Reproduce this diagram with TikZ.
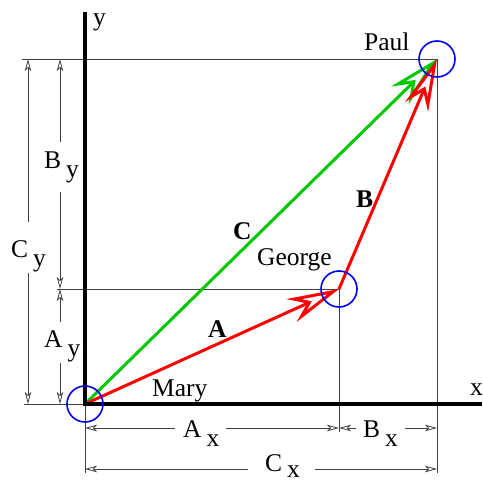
\documentclass[tikz,border=0pt]{standalone}
\usepackage{fontspec}
\setmainfont{Liberation Serif}
\usetikzlibrary{arrows.meta}
\definecolor{vred}{RGB}{255,0,0}
\definecolor{vgreen}{RGB}{0,200,0}
\definecolor{vblue}{RGB}{0,0,240}
\tikzset{
  thinline/.style={line width=0.8pt, black!75},
  dimline/.style={line width=0.8pt, black!75, -{Stealth[open, length=12pt, width=6.5pt, inset=3pt, line width=0.8pt]}},
  vec/.style={line width=3pt, line join=miter, -{Stealth[open, length=52pt, width=25pt, inset=17pt, line width=3pt]}},
  axis/.style={line width=4pt, black},
  lbl/.style={font=\fontsize{25.5}{30}\selectfont, inner sep=0pt, anchor=base west},
  blbl/.style={font=\fontsize{25.5}{30}\selectfont\bfseries, inner sep=0pt, anchor=base west},
  pt/.style={circle, draw=vblue, line width=1.6pt, minimum size=36pt, inner sep=0pt}
}
\newcommand{\dimlab}[3][9pt]{#2\hspace{5pt}\raisebox{-#1}{#3}}
\begin{document}
\begin{tikzpicture}[x=1pt,y=-1pt]
\useasboundingbox (0,0) rectangle (482,484);
% key points
\coordinate (M) at (85,404);
\coordinate (G) at (339,289);
\coordinate (P) at (437,59);
% extension lines
\coordinate (e1) at (22,59);
\coordinate (e2) at (57,289);
\coordinate (e3) at (24,404);
\coordinate (e4) at (85,473);
\coordinate (e5) at (339,432);
\coordinate (e6) at (437,473);
\draw[thinline] (e1) -- (P);
\draw[thinline] (e2) -- (G);
\draw[thinline] (e3) -- (M);
\draw[thinline] (M) -- (e4);
\draw[thinline] (G) -- (e5);
\draw[thinline] (P) -- (e6);
% dimension end points
\coordinate (ax0) at (85,428);  \coordinate (ax1) at (339,428); \coordinate (bx1) at (437,428);
\coordinate (cx0) at (85,469);  \coordinate (cx1) at (437,469);
\coordinate (by0) at (60,59);   \coordinate (by1) at (60,289);  \coordinate (ay1) at (60,404);
\coordinate (cy0) at (28,59);   \coordinate (cy1) at (28,404);
% dimension line inner ends
\coordinate (ax0i) at (175,428); \coordinate (ax1i) at (226,428);
\coordinate (bx0i) at (356,428); \coordinate (bx1i) at (405,428);
\coordinate (cx0i) at (248,469); \coordinate (cx1i) at (315,469);
\coordinate (by0i) at (60,142);  \coordinate (by1i) at (60,192);
\coordinate (ay0i) at (60,322);  \coordinate (ay1i) at (60,363);
\coordinate (cy0i) at (28,222);  \coordinate (cy1i) at (28,273);
\draw[dimline] (ax0i) -- (ax0);
\draw[dimline] (ax1i) -- (ax1);
\draw[dimline] (bx0i) -- (ax1);
\draw[dimline] (bx1i) -- (bx1);
\draw[dimline] (cx0i) -- (cx0);
\draw[dimline] (cx1i) -- (cx1);
\draw[dimline] (by0i) -- (by0);
\draw[dimline] (by1i) -- (by1);
\draw[dimline] (ay0i) -- (by1);
\draw[dimline] (ay1i) -- (ay1);
\draw[dimline] (cy0i) -- (cy0);
\draw[dimline] (cy1i) -- (cy1);
% dimension labels
\node[lbl] (Ax) at (183,437) {\dimlab{A}{x}};
\node[lbl] (Bx) at (363,437) {\dimlab{B}{x}};
\node[lbl] (Cx) at (265,471) {\dimlab[6pt]{C}{x}};
\node[lbl] (By) at (44,168) {\dimlab{B}{y}};
\node[lbl] (Ay) at (44,347) {\dimlab{A}{y}};
\node[lbl] (Cy) at (11,257) {\dimlab{C}{y}};
% vectors
\draw[vec, vgreen] (M) -- (P);
\draw[vec, vred] (M) -- (G);
\draw[vec, vred] (G) -- (P);
% axes
\coordinate (yt) at (85,12);
\coordinate (yb) at (85,406);
\coordinate (xl) at (83,404);
\coordinate (xr) at (482,404);
\draw[axis] (yb) -- (yt);
\draw[axis] (xl) -- (xr);
\node[lbl] (xlab) at (470,395) {x};
\node[lbl] (ylab) at (93,26) {y};
% names and vector labels
\node[lbl] (mary) at (152,396) {Mary};
\node[lbl] (george) at (257,265) {George};
\node[lbl] (paul) at (364,51) {Paul};
\node[blbl] (A) at (208,337) {A};
\node[blbl] (B) at (356,207) {B};
\node[blbl] (C) at (233,239) {C};
% circles
\node[pt] (cM) at (M) {};
\node[pt] (cG) at (G) {};
\node[pt] (cP) at (P) {};
\end{tikzpicture}
\end{document}
